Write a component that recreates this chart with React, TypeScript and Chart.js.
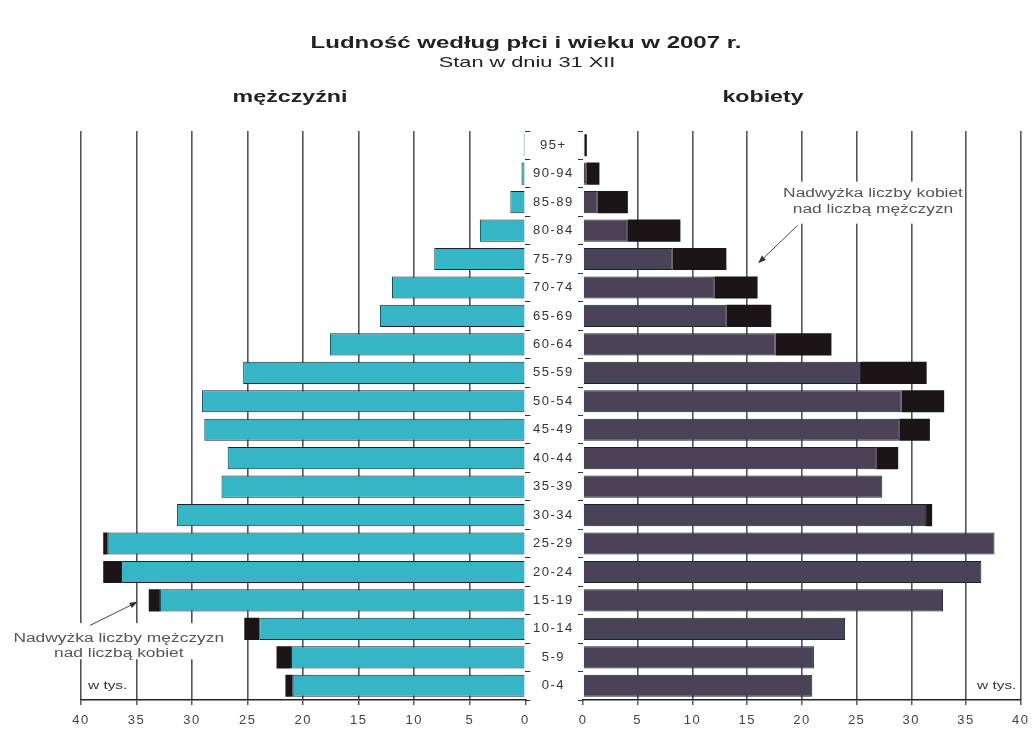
import React, { useEffect, useRef } from "react";
import { Chart, registerables } from "chart.js";

Chart.register(...registerables);

// Age groups, top of the pyramid first
const ageGroups = [
  "95+", "90-94", "85-89", "80-84", "75-79", "70-74", "65-69", "60-64",
  "55-59", "50-54", "45-49", "40-44", "35-39", "30-34", "25-29", "20-24",
  "15-19", "10-14", "5-9", "0-4",
];

// Population in thousands
const men = [
  0.15, 0.35, 1.35, 4.1, 8.2, 12.0, 13.1, 17.6,
  25.4, 29.1, 28.9, 26.8, 27.35, 31.35, 38.0, 38.0,
  33.9, 25.3, 22.4, 21.6,
];
const women = [
  0.35, 1.5, 4.1, 8.9, 13.1, 15.95, 17.2, 22.7,
  31.4, 33.0, 31.7, 28.8, 27.35, 31.9, 37.6, 36.4,
  32.9, 23.95, 21.1, 20.95,
];

const axisMax = 40;
const axisStep = 5;

// Shared part of each bar and the surplus of one sex over the other
const common = men.map((m, i) => Math.min(m, women[i]));
const menSurplus = men.map((m, i) => Math.max(0, m - women[i]));
const womenSurplus = women.map((w, i) => Math.max(0, w - men[i]));

const FONT = '"Liberation Sans", Arial, Helvetica, sans-serif';
const TEAL = "#36b5c6";
const PURPLE = "#4a4357";
const SURPLUS = "#1b1517";
const OUTLINE = "#1d2326";
const GRID = "#555555";
const STRETCH = 1.45;

function stretchedText(
  ctx: CanvasRenderingContext2D,
  text: string,
  cx: number,
  cy: number,
  font: string,
  color: string,
  sx: number
) {
  ctx.save();
  ctx.font = font;
  ctx.fillStyle = color;
  ctx.textAlign = "center";
  ctx.textBaseline = "middle";
  ctx.translate(cx, cy);
  ctx.scale(sx, 1);
  ctx.fillText(text, 0, 0);
  ctx.restore();
}

function arrow(
  ctx: CanvasRenderingContext2D,
  x0: number,
  y0: number,
  x1: number,
  y1: number
) {
  const ang = Math.atan2(y1 - y0, x1 - x0);
  const head = 8;
  ctx.save();
  ctx.strokeStyle = "#444";
  ctx.fillStyle = "#333";
  ctx.lineWidth = 1;
  ctx.beginPath();
  ctx.moveTo(x0, y0);
  ctx.lineTo(x1 - Math.cos(ang) * head * 0.8, y1 - Math.sin(ang) * head * 0.8);
  ctx.stroke();
  ctx.beginPath();
  ctx.moveTo(x1, y1);
  ctx.lineTo(
    x1 - head * Math.cos(ang) + 3 * Math.sin(ang),
    y1 - head * Math.sin(ang) - 3 * Math.cos(ang)
  );
  ctx.lineTo(
    x1 - head * Math.cos(ang) - 3 * Math.sin(ang),
    y1 - head * Math.sin(ang) + 3 * Math.cos(ang)
  );
  ctx.closePath();
  ctx.fill();
  ctx.restore();
}

function xScale(reverse: boolean) {
  return {
    type: "linear" as const,
    min: 0,
    max: axisMax,
    reverse,
    stacked: true,
    afterFit: (s: any) => {
      s.height = 31;
    },
    ticks: {
      stepSize: axisStep,
      color: "#444",
      font: { family: FONT, size: 13 },
      padding: 8,
      maxRotation: 0,
      autoSkip: false,
    },
    grid: {
      color: (c: any) =>
        c.tick && c.tick.value === 0 ? "rgba(0,0,0,0)" : GRID,
      lineWidth: 1.6,
      tickLength: 5,
      tickColor: "#333",
      tickWidth: 1.2,
    },
    border: { display: true, color: "#222", width: 1.5 },
  };
}

function barSet(label: string, data: number[], color: string, outlined: boolean) {
  return {
    label,
    data,
    backgroundColor: color,
    borderColor: OUTLINE,
    borderWidth: outlined ? 1 : 0,
    borderSkipped: "start" as const,
    barPercentage: 0.78,
    categoryPercentage: 1,
    stack: "s",
  };
}

export default function App() {
  const leftRef = useRef<HTMLCanvasElement>(null);
  const rightRef = useRef<HTMLCanvasElement>(null);

  useEffect(() => {
    const left = new Chart(leftRef.current as HTMLCanvasElement, {
      type: "bar",
      data: {
        labels: ageGroups,
        datasets: [
          barSet("mężczyźni", common, TEAL, true),
          barSet("nadwyżka mężczyzn", menSurplus, SURPLUS, false),
        ],
      },
      options: {
        indexAxis: "y",
        animation: false,
        responsive: false,
        devicePixelRatio: 1,
        layout: { padding: { left: 81, top: 131, right: 0, bottom: 0 } },
        plugins: {
          legend: { display: false },
          tooltip: { enabled: false },
        },
        scales: {
          x: xScale(true),
          y: {
            type: "category",
            position: "right",
            stacked: true,
            afterFit: (s: any) => {
              s.width = 6;
            },
            ticks: { display: false },
            grid: {
              offset: true,
              drawOnChartArea: false,
              tickLength: 5,
              color: "#333",
              lineWidth: 1,
            },
            border: { display: false },
          },
        },
      } as any,
      plugins: [
        {
          id: "menNotes",
          beforeDraw(chart: any) {
            chart.ctx.letterSpacing = "1.5px";
          },
          afterDraw(chart: any) {
            const ctx = chart.ctx as CanvasRenderingContext2D;
            (ctx as any).letterSpacing = "0px";
            const xs = chart.scales.x;
            const ys = chart.scales.y;
            // label for the male surplus
            ctx.save();
            ctx.fillStyle = "#ffffff";
            ctx.fillRect(10, ys.getPixelForValue(16.8), 215, 36);
            ctx.restore();
            const cx = xs.getPixelForValue(36.6);
            stretchedText(ctx, "Nadwyżka liczby mężczyzn", cx, ys.getPixelForValue(17.36),
              `12px ${FONT}`, "#555", STRETCH);
            stretchedText(ctx, "nad liczbą kobiet", cx, ys.getPixelForValue(17.88),
              `12px ${FONT}`, "#555", STRETCH);
            arrow(ctx, xs.getPixelForValue(39.2), ys.getPixelForValue(16.88),
              xs.getPixelForValue(34.9), ys.getPixelForValue(16.05));
            stretchedText(ctx, "w tys.", xs.getPixelForValue(37.6), ys.getPixelForValue(19),
              `11px ${FONT}`, "#333", 1.4);
          },
        },
      ],
    });

    const right = new Chart(rightRef.current as HTMLCanvasElement, {
      type: "bar",
      data: {
        labels: ageGroups,
        datasets: [
          barSet("kobiety", common, PURPLE, true),
          barSet("nadwyżka kobiet", womenSurplus, SURPLUS, false),
        ],
      },
      options: {
        indexAxis: "y",
        animation: false,
        responsive: false,
        devicePixelRatio: 1,
        layout: { padding: { left: 0, top: 131, right: 9, bottom: 0 } },
        plugins: {
          legend: { display: false },
          tooltip: { enabled: false },
        },
        scales: {
          x: xScale(false),
          y: {
            type: "category",
            position: "left",
            stacked: true,
            afterFit: (s: any) => {
              s.width = 58;
            },
            ticks: {
              color: "#333",
              font: { family: FONT, size: 13 },
              padding: 8,
              crossAlign: "center",
              autoSkip: false,
            },
            grid: {
              offset: true,
              drawOnChartArea: false,
              tickLength: 5,
              color: "#333",
              lineWidth: 1,
            },
            border: { display: false },
          },
        },
      } as any,
      plugins: [
        {
          id: "womenNotes",
          beforeDraw(chart: any) {
            chart.ctx.letterSpacing = "1.5px";
          },
          afterDraw(chart: any) {
            const ctx = chart.ctx as CanvasRenderingContext2D;
            (ctx as any).letterSpacing = "0px";
            const xs = chart.scales.x;
            const ys = chart.scales.y;
            const cx = xs.getPixelForValue(26.5);
            ctx.save();
            ctx.fillStyle = "#ffffff";
            ctx.fillRect(cx - 92, ys.getPixelForValue(1.28), 184, 42);
            ctx.restore();
            stretchedText(ctx, "Nadwyżka liczby kobiet", cx, ys.getPixelForValue(1.69),
              `12px ${FONT}`, "#555", STRETCH);
            stretchedText(ctx, "nad liczbą mężczyzn", cx, ys.getPixelForValue(2.25),
              `12px ${FONT}`, "#555", STRETCH);
            arrow(ctx, xs.getPixelForValue(19.6), ys.getPixelForValue(2.82),
              xs.getPixelForValue(16.0), ys.getPixelForValue(4.15));
            stretchedText(ctx, "w tys.", xs.getPixelForValue(37.8), ys.getPixelForValue(19),
              `11px ${FONT}`, "#333", 1.4);
          },
        },
      ],
    });

    return () => {
      left.destroy();
      right.destroy();
    };
  }, []);

  const heading = (
    text: string,
    cx: number,
    cy: number,
    size: number,
    bold: boolean,
    sx: number
  ) => (
    <div
      style={{
        position: "absolute",
        left: cx,
        top: cy,
        transform: `translate(-50%, -50%) scaleX(${sx})`,
        whiteSpace: "nowrap",
        lineHeight: 1,
        fontFamily: FONT,
        fontSize: size,
        fontWeight: bold ? 700 : 400,
        color: "#222",
      }}
    >
      {text}
    </div>
  );

  return (
    <div
      style={{
        position: "absolute",
        left: 0,
        top: 0,
        width: 1036,
        height: 731,
        background: "#ffffff",
        overflow: "hidden",
      }}
    >
      <canvas
        ref={leftRef}
        width={537}
        height={731}
        style={{ position: "absolute", left: 0, top: 0, width: 537, height: 731 }}
      />
      <canvas
        ref={rightRef}
        width={511}
        height={731}
        style={{ position: "absolute", left: 525, top: 0, width: 511, height: 731 }}
      />
      {heading("Ludność według płci i wieku w 2007 r.", 526, 43, 16, true, 1.5)}
      {heading("Stan w dniu 31 XII", 527, 61, 15, false, 1.45)}
      {heading("mężczyźni", 290, 97, 16, true, 1.45)}
      {heading("kobiety", 763, 97, 16, true, 1.45)}
    </div>
  );
}
